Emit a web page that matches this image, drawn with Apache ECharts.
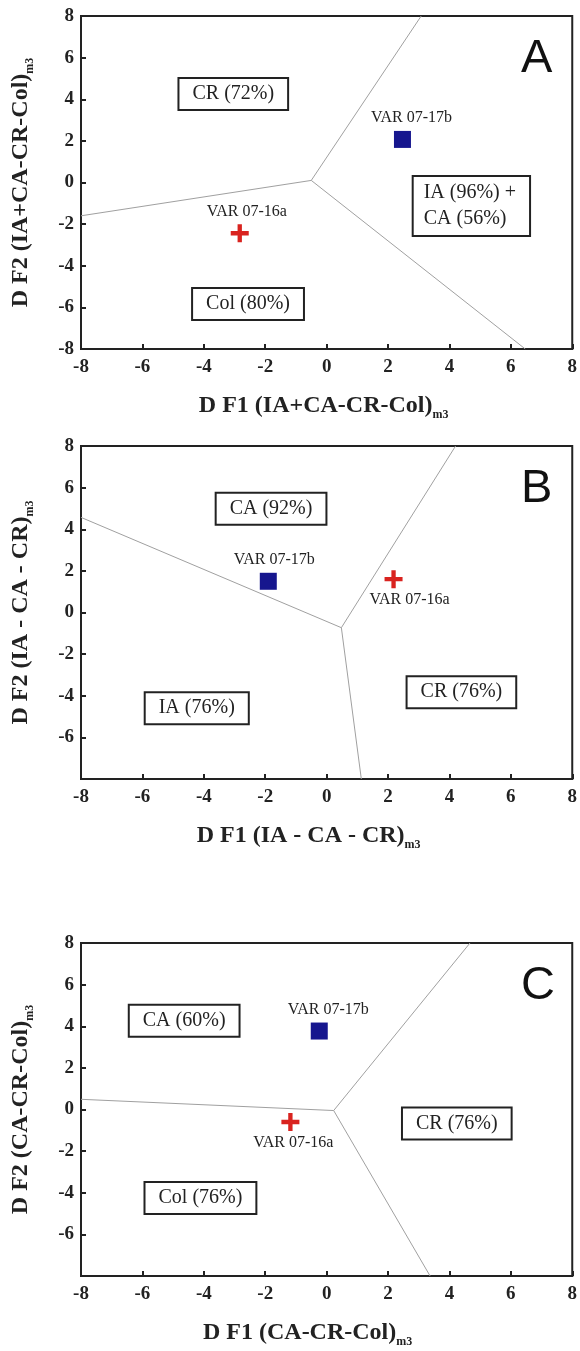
<!DOCTYPE html>
<html>
<head>
<meta charset="utf-8">
<script src="https://cdn.jsdelivr.net/npm/echarts@6/dist/echarts.min.js"></script>
<style>
  html, body { margin: 0; padding: 0; background: #fff; }
  #chart { width: 580px; height: 1351px; }
</style>
</head>
<body>
<div id="chart"></div>
<script>
// panel data (A, B, C)
const letters = ['A', 'B', 'C'];
const xTitles = ['D F1 (IA+CA-CR-Col)', 'D F1 (IA - CA - CR)', 'D F1 (CA-CR-Col)'];
const yTitles = ['D F2 (IA+CA-CR-Col)', 'D F2 (IA - CA - CR)', 'D F2 (CA-CR-Col)'];
const titleSub = 'm3';

// boundary lines: meeting point and the three ends of each panel
const vertices = [[-0.5, 0.1], [0.48, -0.73], [0.23, -0.05]];
const rayEnds = [
  [[-8, -1.6], [3.08, 8], [6.47, -8]],
  [[-8, 4.57], [4.2, 8], [1.13, -8]],
  [[-8, 0.49], [4.67, 8], [3.37, -8]]
];

// samples
const sample17b = [[2.47, 2.07], [-1.9, 1.5], [-0.24, 3.77]];
const sample16a = [[-2.83, -2.44], [2.18, 1.6], [-1.18, -0.6]];
const name17b = 'VAR 07-17b';
const name16a = 'VAR 07-16a';

// group labels
const regionText = [
  ['CR (72%)', 'IA (96%) +\nCA (56%)', 'Col (80%)'],
  ['CA (92%)', 'IA (76%)', 'CR (76%)'],
  ['CA (60%)', 'CR (76%)', 'Col (76%)']
];
const regionAt = [
  [[-3.04, 4.25], [4.79, -1.13], [-2.56, -5.84]],
  [[-1.81, 4.98], [-4.23, -4.6], [4.39, -3.83]],
  [[-4.64, 4.27], [4.24, -0.67], [-4.11, -4.25]]
];

const serif = "Georgia, 'Liberation Serif', 'DejaVu Serif', serif";
const ink = '#222';
const gridTops = [16, 446, 943];
const gridHeight = 333;

// label placement of the sample names (pixels)
const label17b = [{ position: 'top', offset: [9, 0] }, { position: 'top', offset: [6, 0] }, { position: 'top', offset: [9, 0] }];
const label16a = [{ position: 'top', offset: [7, 0] }, { position: 'bottom', offset: [16, 0] }, { position: 'bottom', offset: [3, 0] }];
const xNamePad = [[0, 6, 0, 0], [0, 36, 0, 0], [0, 38, 0, 0]];

const chart = echarts.init(document.getElementById('chart'));

const grids = [], xAxes = [], yAxes = [], series = [], graphics = [];

letters.forEach((letter, i) => {
  grids.push({
    left: 81, right: 5, top: gridTops[i], height: gridHeight,
    show: true, borderColor: ink, borderWidth: 2, backgroundColor: '#fff'
  });
  const axisCommon = {
    gridIndex: i, type: 'value', min: -8, max: 8, interval: 2,
    splitLine: { show: false },
    axisLine: { show: true, onZero: false, lineStyle: { color: ink, width: 2 } },
    axisTick: { inside: true, length: 5, lineStyle: { color: ink, width: 2 } },
    axisLabel: { color: ink, fontFamily: serif, fontWeight: 'bold', fontSize: 19 },
    nameLocation: 'middle'
  };
  const nameRich = {
    t: { fontFamily: serif, fontWeight: 'bold', fontSize: 24, color: ink, lineHeight: 30 },
    s: { fontFamily: serif, fontWeight: 'bold', fontSize: 12, color: ink, lineHeight: 30, verticalAlign: 'bottom' }
  };
  xAxes.push(Object.assign({}, axisCommon, {
    axisLabel: Object.assign({}, axisCommon.axisLabel, { margin: 9 }),
    name: '{t|' + xTitles[i] + '}{s|' + titleSub + '}',
    nameGap: 42,
    nameTextStyle: { padding: xNamePad[i], rich: nameRich }
  }));
  yAxes.push(Object.assign({}, axisCommon, {
    axisLabel: Object.assign({}, axisCommon.axisLabel, { margin: 7, showMinLabel: i === 0 }),
    name: '{t|' + yTitles[i] + '}{s|' + titleSub + '}',
    nameGap: 45,
    nameTextStyle: { rich: nameRich }
  }));

  rayEnds[i].forEach(end => {
    series.push({
      type: 'line', xAxisIndex: i, yAxisIndex: i, silent: true, symbol: 'none', z: 1,
      lineStyle: { color: '#a0a0a0', width: 1 },
      data: [vertices[i], end]
    });
  });

  series.push({
    type: 'scatter', xAxisIndex: i, yAxisIndex: i, silent: true, z: 3,
    symbolSize: 1, itemStyle: { color: 'rgba(0,0,0,0)', opacity: 1 },
    label: {
      show: true, position: 'inside', formatter: p => p.data.text,
      fontFamily: serif, fontSize: 20, color: ink, lineHeight: 26,
      textBorderWidth: 0, textShadowBlur: 0,
      backgroundColor: '#fff', borderColor: ink, borderWidth: 2, padding: [2, 13]
    },
    data: regionAt[i].map((p, k) => {
      const item = { value: p, text: regionText[i][k] };
      if (regionText[i][k].indexOf('\n') >= 0) {
        item.label = { align: 'left', offset: [-60, 0], padding: [3, 13, 3, 10] };
      }
      return item;
    })
  });

  series.push({
    type: 'scatter', xAxisIndex: i, yAxisIndex: i, silent: true, z: 4,
    symbol: 'rect', symbolSize: 17, itemStyle: { color: '#16168e', opacity: 1 },
    label: Object.assign({
      show: true, formatter: name17b, distance: 5,
      fontFamily: serif, fontSize: 16, color: ink
    }, label17b[i]),
    data: [sample17b[i]]
  });
  series.push({
    type: 'scatter', xAxisIndex: i, yAxisIndex: i, silent: true, z: 4,
    symbol: 'path://M0,3.8H10V6.2H0Z M3.8,0H6.2V10H3.8Z', symbolSize: 18,
    itemStyle: { color: '#d9231f', opacity: 1 },
    label: Object.assign({
      show: true, formatter: name16a, distance: 4,
      fontFamily: serif, fontSize: 16, color: ink
    }, label16a[i]),
    data: [sample16a[i]]
  });

  graphics.push({
    type: 'text', left: 521, top: gridTops[i] + 20,
    style: { text: letter, font: "47px 'Liberation Sans', Arial, sans-serif", fill: '#111' }
  });
});

chart.setOption({
  animation: false,
  grid: grids,
  xAxis: xAxes,
  yAxis: yAxes,
  series: series,
  graphic: graphics
});
</script>
</body>
</html>
